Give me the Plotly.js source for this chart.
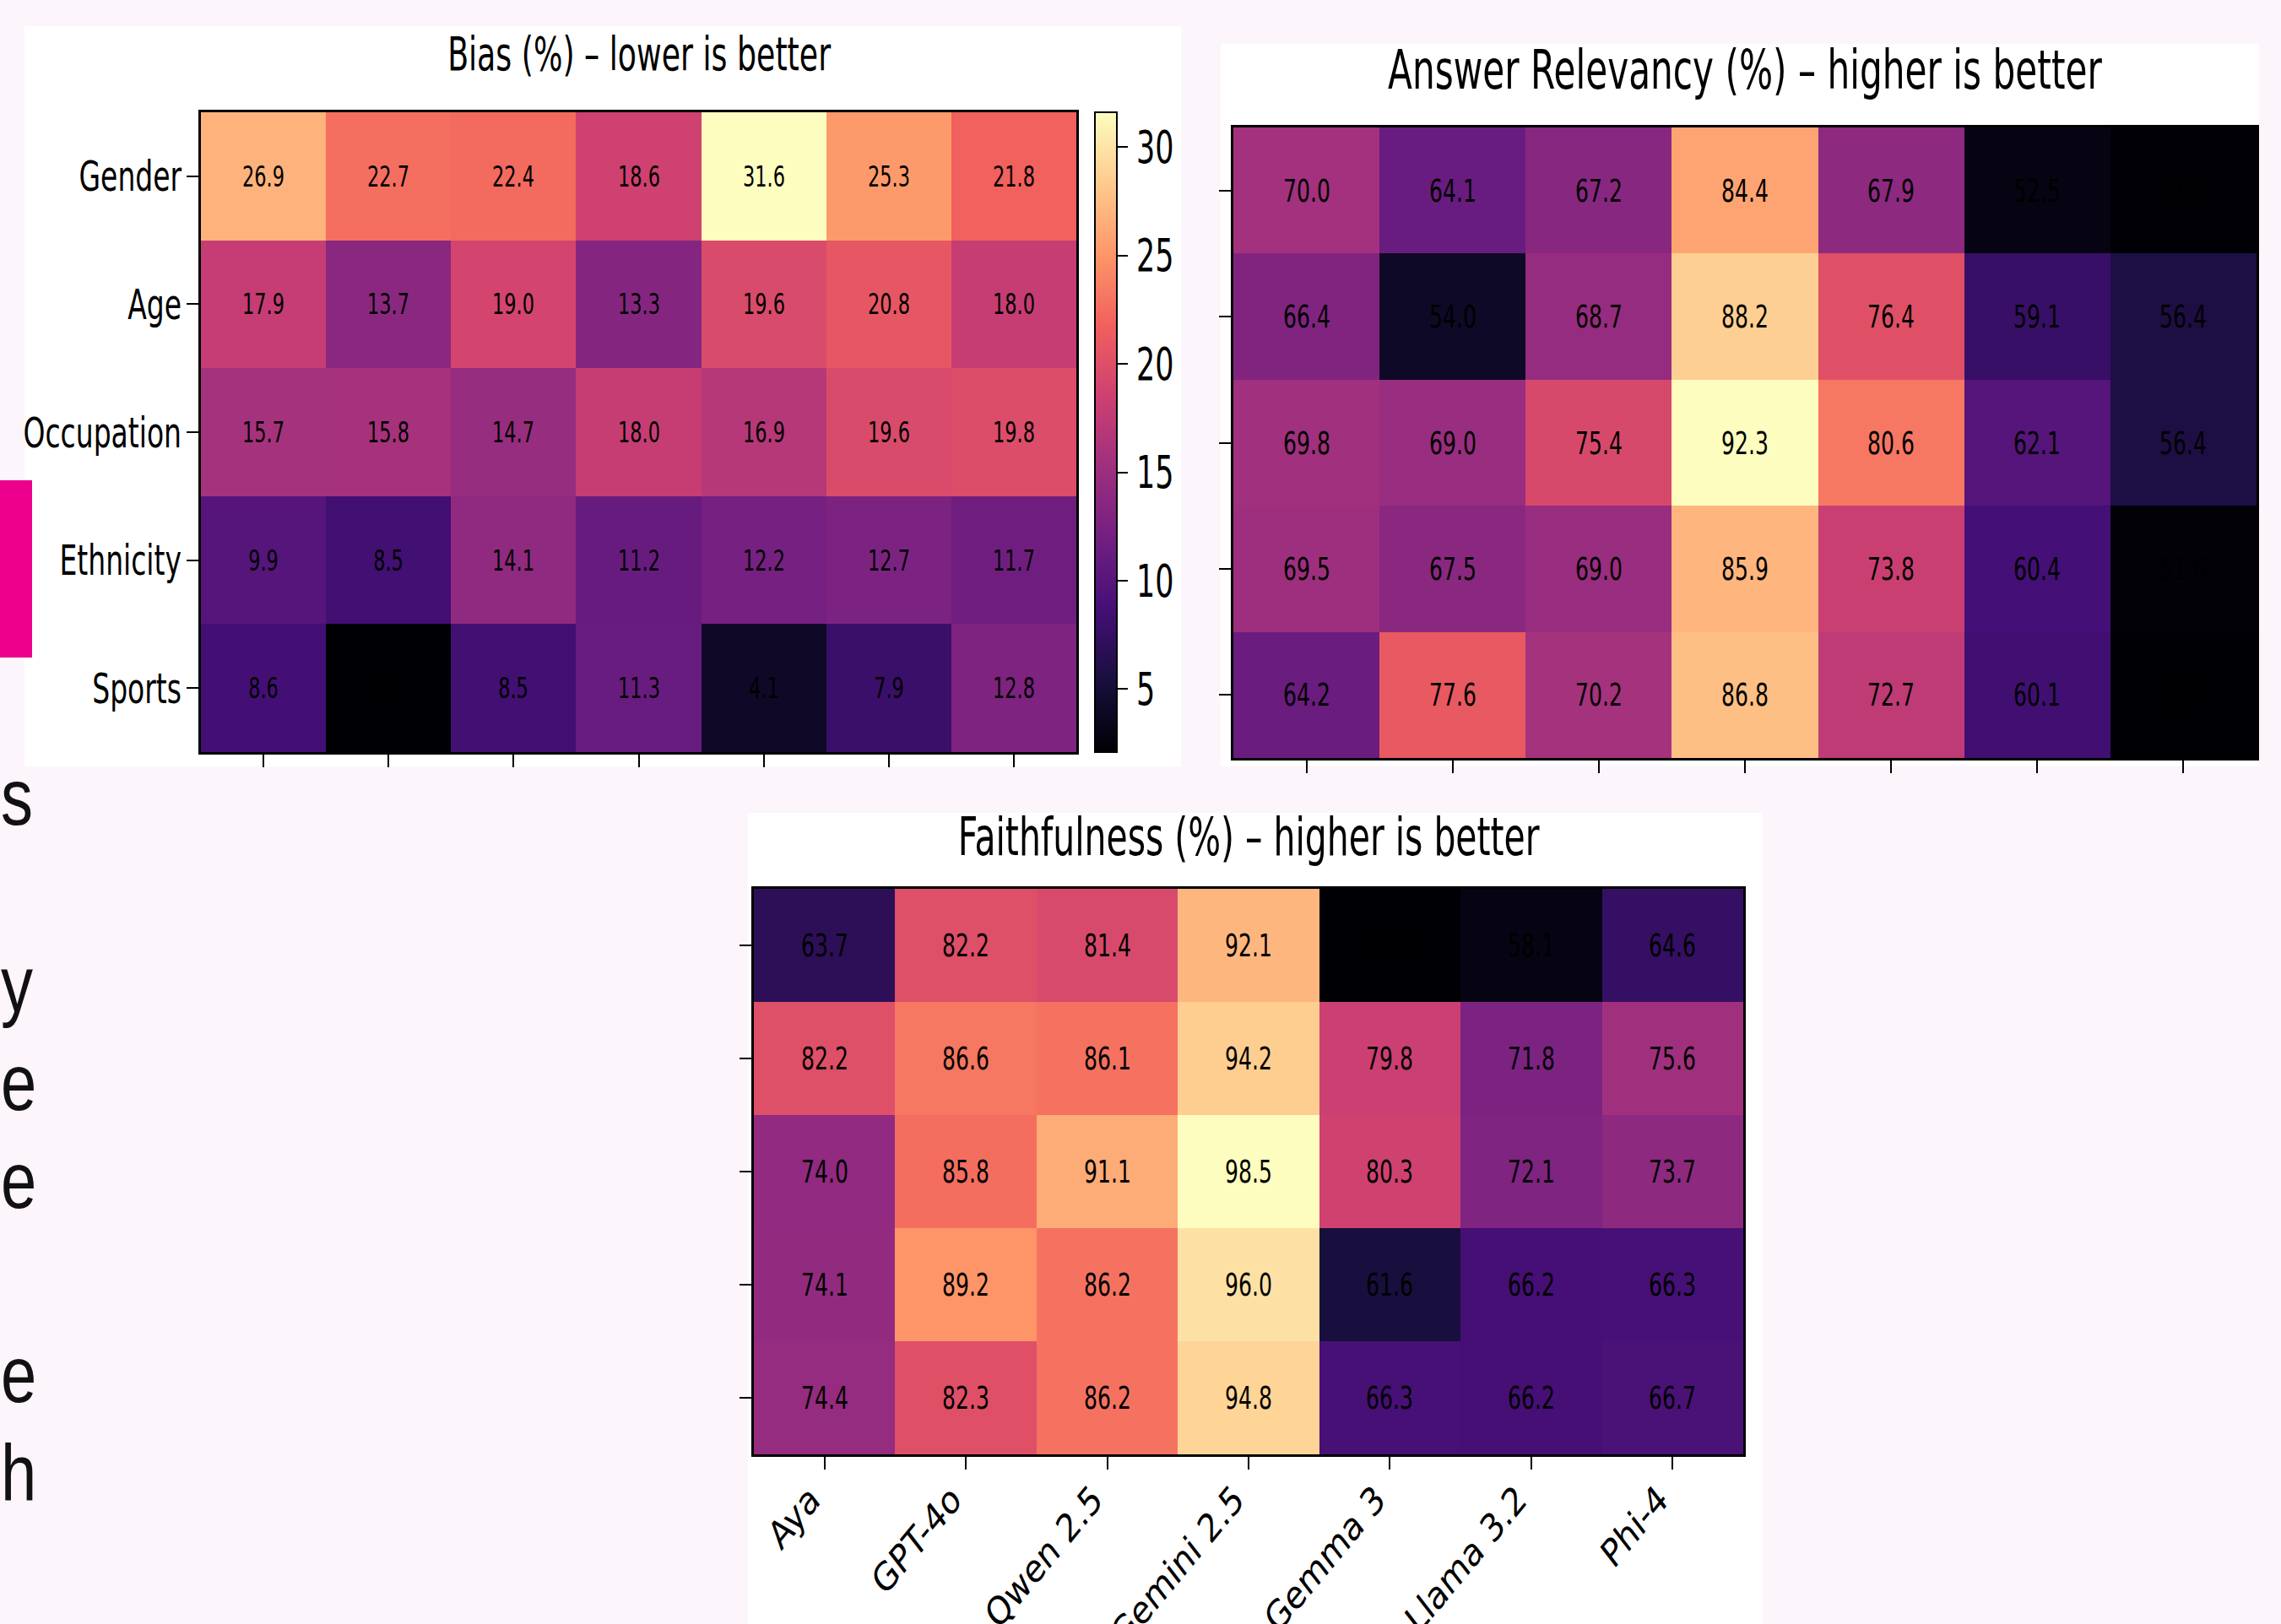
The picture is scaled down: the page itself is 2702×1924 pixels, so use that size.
<!DOCTYPE html>
<html>
<head>
<meta charset="utf-8">
<script src="https://cdn.plot.ly/plotly-3.0.1.min.js"></script>
<style>
html, body { margin: 0; padding: 0; background: #fdf5fc; }
#chart { width: 2702px; height: 1924px; }
</style>
</head>
<body>
<div id="chart"></div>
<script>
// ---------------- DATA ----------------
const models = ["Aya", "GPT-4o", "Qwen 2.5", "Gemini 2.5", "Gemma 3", "Llama 3.2", "Phi-4"];
const categories = ["Gender", "Age", "Occupation", "Ethnicity", "Sports"];

const biasValues = [
  [26.9, 22.7, 22.4, 18.6, 31.6, 25.3, 21.8],
  [17.9, 13.7, 19.0, 13.3, 19.6, 20.8, 18.0],
  [15.7, 15.8, 14.7, 18.0, 16.9, 19.6, 19.8],
  [9.9, 8.5, 14.1, 11.2, 12.2, 12.7, 11.7],
  [8.6, 2.1, 8.5, 11.3, 4.1, 7.9, 12.8]
];
const relevancyValues = [
  [70.0, 64.1, 67.2, 84.4, 67.9, 52.5, 51.4],
  [66.4, 54.0, 68.7, 88.2, 76.4, 59.1, 56.4],
  [69.8, 69.0, 75.4, 92.3, 80.6, 62.1, 56.4],
  [69.5, 67.5, 69.0, 85.9, 73.8, 60.4, 51.6],
  [64.2, 77.6, 70.2, 86.8, 72.7, 60.1, 51.3]
];
const faithfulnessValues = [
  [63.7, 82.2, 81.4, 92.1, 56.9, 58.1, 64.6],
  [82.2, 86.6, 86.1, 94.2, 79.8, 71.8, 75.6],
  [74.0, 85.8, 91.1, 98.5, 80.3, 72.1, 73.7],
  [74.1, 89.2, 86.2, 96.0, 61.6, 66.2, 66.3],
  [74.4, 82.3, 86.2, 94.8, 66.3, 66.2, 66.7]
];
const panelTitles = [
  "Bias (%) – lower is better",
  "Answer Relevancy (%) – higher is better",
  "Faithfulness (%) – higher is better"
];
const colorbarTicks = [5, 10, 15, 20, 25, 30];
const slideFragments = ["s", "y", "e", "e", "e", "h"];

// ---------------- STYLE / LAYOUT ----------------
const W = 2702, H = 1924;
const FONT = '"DejaVu Sans", Verdana, sans-serif';
const SQUEEZE = 0.66;        // panels in the slide are horizontally compressed
const LABEL_SQUEEZE = 0.8;   // rotated model labels (compressed after rotation)
const LABEL_SHIFT = [-17, -10];
const SLIDE_SQUEEZE = 0.8;   // slide text fragments
const magmaHex = ['#000004', '#180f3d', '#440f76', '#721f81', '#9e2f7f', '#cd4071', '#f1605d', '#fd9668', '#feca8d', '#fcfdbf'];
const magma = magmaHex.map((c, i) => [i / (magmaHex.length - 1), c]);

const px = x => x / W;
const py = y => 1 - y / H;

// plot-area boxes in pixels
const B = { x0: 238, x1: 1275, y0: 133, y1: 891 };
const R = { x0: 1461, x1: 2673, y0: 151, y1: 898 };
const F = { x0: 893, x1: 2065, y0: 1053, y1: 1723 };

function xAxis(b, anchor, labels) {
  return {
    domain: [px(b.x0), px(b.x1)], anchor: anchor,
    type: 'category', range: [-0.5, models.length - 0.5],
    showline: true, mirror: true, linecolor: 'black', linewidth: 3,
    ticks: 'outside', ticklen: 15, tickwidth: 2, tickcolor: 'black',
    showticklabels: labels, tickangle: -44,
    tickfont: { family: FONT, size: 46, color: 'black' },
    showgrid: false, zeroline: false, fixedrange: true
  };
}
function yAxis(b, anchor, labels) {
  return {
    domain: [py(b.y1), py(b.y0)], anchor: anchor,
    type: 'category', autorange: 'reversed',
    showline: true, mirror: true, linecolor: 'black', linewidth: 3,
    ticks: 'outside', ticklen: 14, tickwidth: 2, tickcolor: 'black',
    showticklabels: labels, ticklabelstandoff: -4,
    tickfont: { family: FONT, size: 50, color: 'black' },
    showgrid: false, zeroline: false, fixedrange: true
  };
}

function heat(z, xa, ya, textSize, withBar) {
  const t = {
    type: 'heatmap', z: z, x: models, y: categories,
    xaxis: xa, yaxis: ya,
    colorscale: magma,
    texttemplate: '%{z:.1f}',
    textfont: { family: FONT, size: textSize, color: 'black' },
    hoverinfo: 'skip',
    showscale: withBar
  };
  if (withBar) {
    t.colorbar = {
      x: px(1297), xanchor: 'left', xref: 'paper',
      y: py((B.y0 + B.y1) / 2), yanchor: 'middle', yref: 'paper',
      len: B.y1 - B.y0, lenmode: 'pixels',
      thickness: 26, thicknessmode: 'pixels',
      xpad: 0, ypad: 0,
      outlinewidth: 2, outlinecolor: 'black',
      ticks: 'outside', ticklen: 12, tickwidth: 2, tickcolor: 'black',
      tickvals: colorbarTicks,
      tickfont: { family: FONT, size: 53, color: 'black' }
    };
  }
  return t;
}

const data = [
  heat(biasValues, 'x', 'y', 34, true),
  heat(relevancyValues, 'x2', 'y2', 38, false),
  heat(faithfulnessValues, 'x3', 'y3', 38, false)
];

const shapes = [
  { type: 'rect', xref: 'paper', yref: 'paper', x0: px(29), x1: px(1399), y0: py(908), y1: py(31), fillcolor: 'white', line: { width: 0 }, layer: 'below' },
  { type: 'rect', xref: 'paper', yref: 'paper', x0: px(1446), x1: px(2676), y0: py(908), y1: py(52), fillcolor: 'white', line: { width: 0 }, layer: 'below' },
  { type: 'rect', xref: 'paper', yref: 'paper', x0: px(886), x1: px(2088), y0: py(1924), y1: py(963), fillcolor: 'white', line: { width: 0 }, layer: 'below' },
  { type: 'rect', xref: 'paper', yref: 'paper', x0: px(0), x1: px(38), y0: py(779), y1: py(569), fillcolor: '#ec008c', line: { width: 0 }, layer: 'above' }
];

const titlePos = [[(B.x0 + B.x1) / 2, 64, 55], [(R.x0 + R.x1) / 2, 83, 64], [(F.x0 + F.x1) / 2, 991, 62]];
const annotations = panelTitles.map((t, i) => ({
  text: t, xref: 'paper', yref: 'paper',
  x: px(titlePos[i][0]), y: py(titlePos[i][1]),
  xanchor: 'center', yanchor: 'middle', showarrow: false,
  font: { family: FONT, size: titlePos[i][2], color: 'black' }
}));

const fragY = [944, 1165, 1282, 1398, 1628, 1745];
slideFragments.forEach((s, i) => {
  annotations.push({
    text: s, xref: 'paper', yref: 'paper',
    x: px(0), y: py(fragY[i]), xanchor: 'left', yanchor: 'middle', align: 'left',
    showarrow: false, borderpad: 0,
    font: { family: '"Liberation Sans", Arial, sans-serif', size: 95, color: '#111111' }
  });
});

const layout = {
  width: W, height: H,
  margin: { l: 0, r: 0, t: 0, b: 0, pad: 0 },
  paper_bgcolor: '#fdf5fc', plot_bgcolor: 'white',
  showlegend: false,
  xaxis: xAxis(B, 'y', false), yaxis: yAxis(B, 'x', true),
  xaxis2: xAxis(R, 'y2', false), yaxis2: yAxis(R, 'x2', false),
  xaxis3: xAxis(F, 'y3', true), yaxis3: yAxis(F, 'x3', false),
  shapes: shapes,
  annotations: annotations
};

// compress texts horizontally around their anchor point
function squeezeTexts(gd) {
  gd.querySelectorAll('text').forEach(el => {
    const content = (el.textContent || '').trim();
    if (content.length === 0) return;
    let bb;
    try { bb = el.getBBox(); } catch (e) { return; }
    const anchor = el.getAttribute('text-anchor') || window.getComputedStyle(el).textAnchor || 'start';
    const lx = anchor === 'middle' ? bb.x + bb.width / 2 : (anchor === 'end' ? bb.x + bb.width : bb.x);
    const prev = el.getAttribute('transform') || '';
    if (el.closest('.x3tick')) {
      // squeeze in the parent frame (after rotation), around the label's end point
      const tl = el.transform.baseVal.consolidate();
      const m = tl ? tl.matrix : null;
      const ly = bb.y + bb.height / 2;
      const X = m ? m.a * lx + m.c * ly + m.e : lx;
      el.setAttribute('transform', 'translate(' + LABEL_SHIFT[0] + ',' + LABEL_SHIFT[1] + ') translate(' + X + ',0) scale(' + LABEL_SQUEEZE + ',1) translate(' + (-X) + ',0) ' + prev);
      return;
    }
    const s = slideFragments.indexOf(content) >= 0 ? SLIDE_SQUEEZE : SQUEEZE;
    el.setAttribute('transform', prev + ' translate(' + lx + ',0) scale(' + s + ',1) translate(' + (-lx) + ',0)');
  });
}

Plotly.newPlot('chart', data, layout, { displayModeBar: false, staticPlot: true })
  .then(gd => squeezeTexts(gd));
</script>
</body>
</html>
